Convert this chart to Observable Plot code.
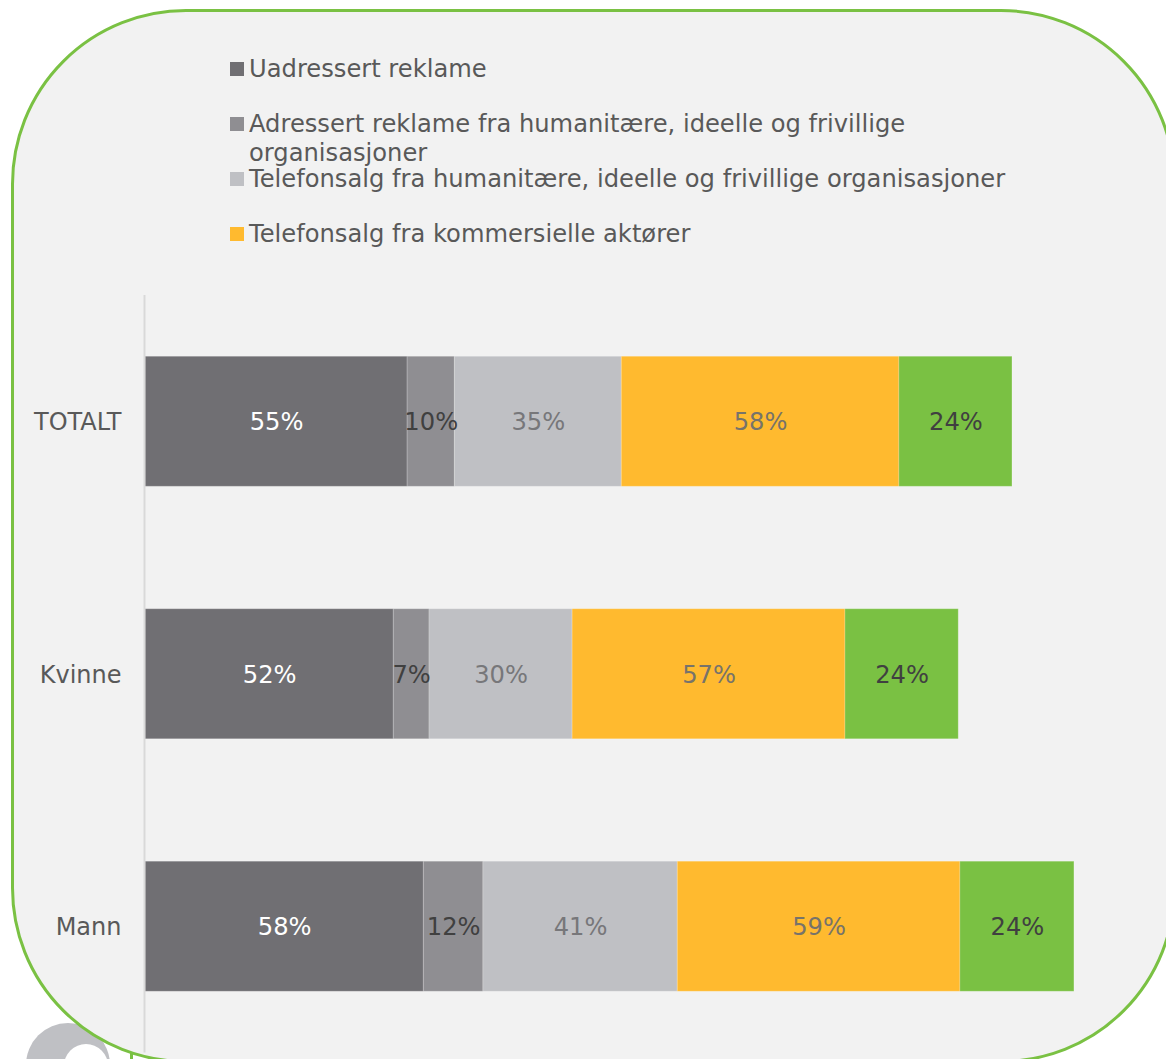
<!DOCTYPE html>
<html><head><meta charset="utf-8">
<script src="https://cdn.jsdelivr.net/npm/d3@7"></script>
<script src="https://cdn.jsdelivr.net/npm/@observablehq/plot@0.6"></script>
<style>
html,body{margin:0;padding:0;background:#fff;width:1166px;height:1059px;overflow:hidden;font-family:"DejaVu Sans",sans-serif}
#wrap{position:relative;width:1166px;height:1059px;overflow:hidden}
#panel{position:absolute;left:11px;top:9px;width:1165px;height:1054px;box-sizing:border-box;border:3px solid #7ac143;border-radius:175px;background:#f2f2f2;z-index:1}
#logo{position:absolute;left:26px;top:1023px;width:84px;height:84px;border-radius:50%;background:#bfc0c4;z-index:0}
#hole{position:absolute;left:38px;top:21px;width:44px;height:44px;border-radius:50%;background:#fff}
#tick{position:absolute;left:130px;top:1050px;width:3px;height:9px;background:#7ac143;z-index:0}
#chart{position:absolute;left:0;top:0;z-index:2}
#legend{position:absolute;left:0;top:0;z-index:3;color:#595959;font-size:24.2px;line-height:29px}
.it{position:absolute;left:230px;white-space:nowrap}
.sw{position:absolute;left:0;top:8px;width:14px;height:14px}
.tx{position:absolute;left:19px;top:1px;width:760px;white-space:normal}
svg{display:block}
</style></head><body>
<div id="wrap">
<div id="logo"><div id="hole"></div></div><div id="tick"></div>
<div id="panel"></div>
<div id="chart"></div>
<div id="legend"></div>
</div>
<script>
const groups = ["TOTALT","Kvinne","Mann"];
const seriesNames = [
  "Uadressert reklame",
  "Adressert reklame fra humanitære, ideelle og frivillige organisasjoner",
  "Telefonsalg fra humanitære, ideelle og frivillige organisasjoner",
  "Telefonsalg fra kommersielle aktører",
  "Annet"
];
const seriesColors = ["#706f73","#8f8e92","#bfc0c4","#ffba2f","#7ac143"];
const labelColors = ["#ffffff","#404040","#77777a","#77736a","#404040"];
const totalt = [54.95, 9.9, 35.0, 58.2, 23.7];
const kvinne = [52.05, 7.49, 30.0, 57.2, 23.75];
const mann   = [58.35, 12.49, 40.75, 59.25, 23.9];
const legendTops = [54, 109, 164, 219];

const rows = [];
[totalt,kvinne,mann].forEach((vals,g)=>vals.forEach((v,s)=>rows.push({group:groups[g],series:seriesNames[s],value:v,idx:s})));

const chart = Plot.plot({
  width:1166,height:1059,
  marginLeft:145,marginRight:67,marginTop:295,marginBottom:6.5,
  style:{background:"transparent",fontFamily:"'DejaVu Sans',sans-serif"},
  x:{domain:[0,200],axis:null},
  y:{domain:groups,paddingInner:0.485,paddingOuter:0.2426,align:0.5,round:false,label:null},
  color:{domain:seriesNames,range:seriesColors},
  marks:[
    Plot.axisY({anchor:"left",tickSize:0,tickPadding:24,fontSize:24,color:"#595959",label:null,dy:0.6}),
    Plot.barX(rows,Plot.stackX({x:"value",y:"group",fill:"series",order:null,stroke:"#fff",strokeOpacity:0.2,strokeWidth:1})),
    Plot.ruleX([0],{stroke:"#d9d9d9",strokeWidth:2,dx:-1}),
    Plot.text(rows,Plot.stackX({x:"value",y:"group",z:"series",order:null,dy:0.6,
      text:d=>Math.round(d.value)+"%",fill:{value:d=>labelColors[d.idx],scale:null},fontSize:24.2}))
  ]
});
document.getElementById("chart").append(chart);

const legend = document.getElementById("legend");
legendTops.forEach((top,i)=>{
  const it = document.createElement("div");
  it.className = "it";
  it.style.top = top+"px";
  const sw = document.createElement("div");
  sw.className = "sw";
  sw.style.background = seriesColors[i];
  const tx = document.createElement("div");
  tx.className = "tx";
  tx.textContent = seriesNames[i];
  it.append(sw,tx);
  legend.append(it);
});
</script>
</body></html>
